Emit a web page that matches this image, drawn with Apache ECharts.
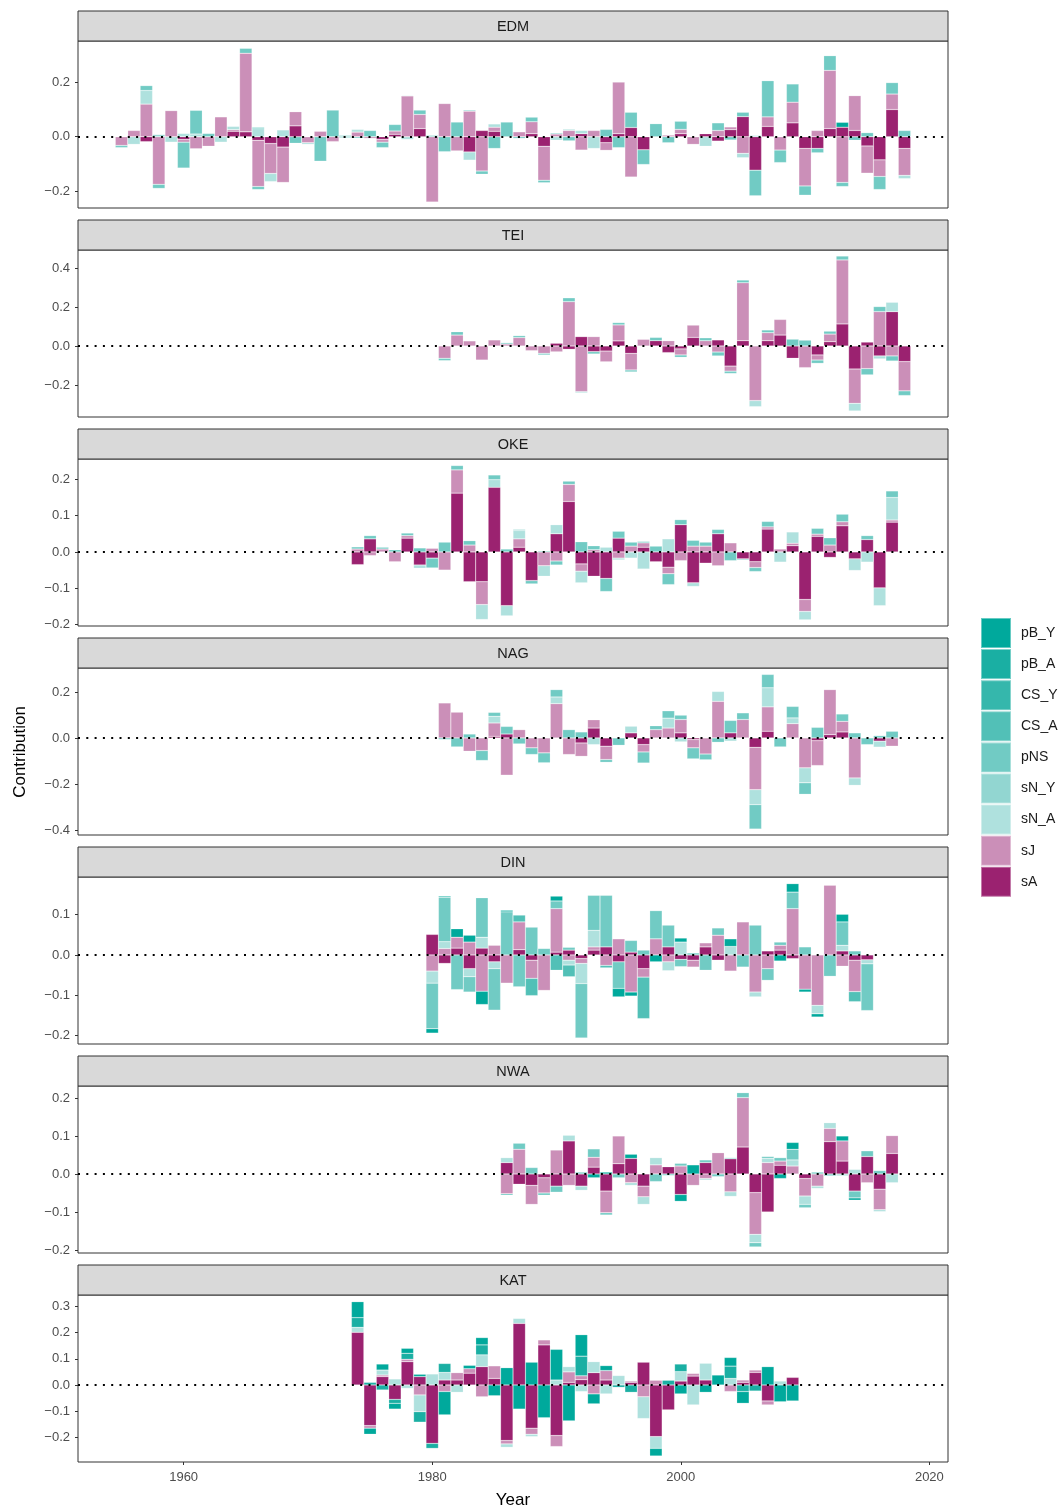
<!DOCTYPE html>
<html>
<head>
<meta charset="utf-8">
<script src="https://cdn.jsdelivr.net/npm/echarts@6/dist/echarts.min.js"></script>
<style>
  html, body { margin: 0; padding: 0; background: #fff; }
  #chart { width: 1063px; height: 1510px; }
</style>
</head>
<body>
<div id="chart"></div>
<script>
// x categories shared by every panel
const years = [
  1952, 1953, 1954, 1955, 1956, 1957, 1958, 1959, 1960, 1961,
  1962, 1963, 1964, 1965, 1966, 1967, 1968, 1969, 1970, 1971,
  1972, 1973, 1974, 1975, 1976, 1977, 1978, 1979, 1980, 1981,
  1982, 1983, 1984, 1985, 1986, 1987, 1988, 1989, 1990, 1991,
  1992, 1993, 1994, 1995, 1996, 1997, 1998, 1999, 2000, 2001,
  2002, 2003, 2004, 2005, 2006, 2007, 2008, 2009, 2010, 2011,
  2012, 2013, 2014, 2015, 2016, 2017, 2018, 2019, 2020, 2021
]
const labelYears = [1960, 1980, 2000, 2020]

// EDM 1955-2018
const edm_sA = [
  0, 0, -0.018, 0, 0, -0.01, 0, 0, 0, 0.02,
  0.018, -0.013, -0.025, -0.038, 0.04, 0, 0, 0, 0, 0,
  0, -0.01, 0.009, 0, 0.03, 0, 0, 0, -0.056, 0.023,
  0.02, 0, 0, 0.011, -0.035, 0, 0, 0.011, 0, -0.022,
  0.011, 0.034, -0.048, 0, 0, 0.011, 0, 0.011, -0.016, 0.026,
  0.074, -0.123, 0.038, 0, 0.051, -0.043, -0.043, 0.03, 0.035, 0.023,
  -0.034, -0.085, 0.1, -0.043
]
const edm_sJ = [
  -0.032, 0.023, 0.12, -0.175, 0.096, -0.01, -0.044, -0.035, 0.073, 0.006,
  0.289, -0.17, -0.11, -0.13, 0.052, -0.022, 0.02, -0.018, 0, 0.017,
  -0.006, -0.01, 0.012, 0.15, 0.052, -0.24, 0.122, -0.052, 0.094, -0.126,
  0.015, 0, 0.018, 0.044, -0.125, 0.01, 0.023, -0.049, 0.023, -0.028,
  0.19, -0.148, 0, 0, 0.006, 0.016, -0.028, 0, 0.023, 0.01,
  -0.061, 0, 0.035, -0.049, 0.076, -0.138, 0.023, 0.214, -0.168, 0.128,
  -0.1, -0.061, 0.057, -0.099
]
const edm_sNA = [
  0, -0.028, 0.05, 0, -0.02, 0.012, 0.01, 0, -0.02, 0.012,
  0, 0.03, -0.03, 0.025, 0, -0.006, 0, 0, -0.005, 0.01,
  0, 0, 0, -0.01, 0, 0, 0, 0, -0.03, 0,
  0.012, 0, 0, 0, 0, -0.013, 0.005, 0.012, -0.043, 0,
  0, 0, 0, 0, 0, 0, 0, -0.035, 0, 0,
  -0.016, 0.005, 0, 0, 0, 0, 0, 0, 0, 0,
  0, 0, 0, -0.012
]
const edm_sNY = [0, 0, 0, 0.008]
const edm_pNS = [
  -0.008, 0, 0.018, -0.015, 0, -0.095, 0.087, 0.012, 0, 0,
  0.018, -0.011, 0, 0, -0.024, 0, -0.09, 0.098, 0.005, -0.005,
  0.023, -0.02, 0.024, 0, 0.016, 0.005, -0.055, 0.054, 0.004, -0.012,
  -0.043, 0.054, -0.006, 0.017, -0.009, 0.004, -0.015, 0, 0, 0.027,
  -0.04, 0.056, -0.054, 0.048, -0.022, 0.03, 0, 0, 0.028, -0.012,
  0.016, -0.094, 0.133, -0.046, 0.067, -0.034, -0.016, 0.054, -0.015, -0.013,
  0.015, -0.048, 0.042, 0.023
]
const edm_pBY = [
  0, 0, 0, 0, 0, 0, 0, 0, 0, 0,
  0, 0.004, 0, 0, 0, 0, 0, 0, 0, 0,
  0, 0, 0, 0.002, 0, 0, 0, 0, 0, 0,
  0, 0, 0, 0, 0, 0, 0, 0, 0, 0,
  0, 0, 0, 0, 0, 0, 0, 0, 0, 0,
  0, 0, 0, 0, 0, 0, 0, 0, 0.018, 0,
  0, 0, 0, 0
]

// TEI 1981-2018
const tei_sA = [
  0, 0, 0, 0, 0, 0, 0, 0, 0, 0.014,
  -0.017, 0.048, -0.029, -0.026, 0.026, -0.038, 0, 0.027, -0.034, -0.015,
  0.044, 0, 0.031, -0.103, 0.027, 0, 0.027, 0.056, -0.063, 0,
  -0.046, 0.022, 0.113, -0.118, 0.02, -0.051, 0.176, -0.08
]
const tei_sJ = [
  -0.063, 0.056, 0.026, -0.072, 0.031, 0.01, 0.043, -0.024, -0.038, -0.03,
  0.227, -0.234, 0.048, -0.055, 0.082, -0.085, 0.034, 0, 0.027, -0.031,
  0.063, 0.027, -0.031, -0.026, 0.297, -0.28, 0.041, 0.08, 0, -0.111,
  -0.026, 0.039, 0.328, -0.176, -0.116, 0.176, -0.051, -0.15
]
const tei_sNA = [
  0, 0, 0, 0, 0, 0, 0, 0, 0, 0,
  0, 0, 0, 0, 0, 0, 0, 0, 0, 0,
  0, 0, 0, 0, 0, -0.031, 0, 0, 0, 0,
  0, 0, 0, -0.039, 0, -0.015, 0.048, 0
]
const tei_pNS = [
  -0.012, 0.017, 0, 0, 0, 0.007, 0.01, 0, -0.008, 0,
  0.02, -0.005, -0.012, 0, 0.012, -0.01, 0, 0.017, 0, -0.012,
  0, 0.015, -0.02, -0.012, 0.014, 0, 0.014, 0, 0.035, 0.03,
  -0.017, 0.015, 0.02, 0, -0.032, 0.026, -0.026, -0.024
]

// OKE 1974-2017
const oke_sA = [
  -0.035, 0.036, 0, 0, 0.038, -0.036, -0.017, 0, 0.162, -0.082,
  -0.082, 0.178, -0.148, 0.013, -0.079, 0, 0.05, 0.139, -0.033, -0.067,
  -0.073, 0.038, 0, 0.013, -0.027, -0.042, 0.075, -0.085, -0.031, 0.05,
  0, -0.019, -0.027, 0.063, 0, 0.017, -0.131, 0.043, -0.015, 0.072,
  -0.019, 0.034, -0.099, 0.082
]
const oke_sJ = [
  0.008, -0.01, 0.008, -0.027, 0.007, 0, 0.01, -0.05, 0.064, 0.019,
  -0.063, 0, 0, 0.023, 0, -0.038, -0.025, 0.047, -0.02, 0.006,
  0, -0.017, 0.016, 0.012, 0, -0.018, -0.024, 0.016, 0.016, -0.038,
  0.025, 0, -0.016, 0.006, 0.008, 0.007, -0.033, 0.006, 0.019, 0.011,
  0, 0, 0, 0.006
]
const oke_sNA = [
  0, 0, 0, 0, 0, -0.009, 0, 0, 0, 0,
  -0.041, 0.021, -0.028, 0.023, 0, -0.029, 0.025, 0, -0.032, 0,
  0.013, -0.005, -0.017, -0.047, 0, 0.036, 0, -0.01, 0, 0,
  0, 0, 0, 0, -0.028, 0.031, -0.023, 0, 0, 0,
  -0.032, -0.028, -0.049, 0.062
]
const oke_pNS = [
  0.006, 0.009, 0.005, 0.006, 0.007, 0.011, -0.027, 0.027, 0.012, 0.012,
  0, 0.013, 0.008, 0.003, -0.009, 0.003, -0.011, 0.009, 0.028, 0.011,
  -0.036, 0.019, 0.011, 0.004, 0.016, -0.03, 0.014, 0.016, 0.011, 0.012,
  -0.024, -0.003, -0.011, 0.015, 0, 0, 0, 0.016, 0.02, 0.021,
  0, 0.011, 0, 0.018
]

// NAG 1981-2017
const nag_sA = [
  0, 0, 0, 0, 0.007, 0.017, 0, 0, 0, 0,
  0, -0.022, 0.043, -0.036, 0, 0.022, -0.029, 0, 0, 0.022,
  -0.007, 0, 0, 0.022, 0, -0.041, 0.029, 0, 0, 0,
  -0.012, 0.014, 0.026, 0, 0, -0.014, 0
]
const nag_sJ = [
  0.152, 0.112, -0.058, -0.055, 0.058, -0.162, 0.036, -0.043, -0.065, 0.149,
  -0.072, -0.058, 0.036, -0.058, 0, 0, -0.032, 0.036, 0.043, 0.058,
  -0.036, -0.07, 0.159, 0, 0.08, -0.184, 0.106, 0, 0.062, -0.13,
  -0.108, 0.196, 0.046, -0.174, 0, 0, -0.036
]
const nag_sNA = [
  0, 0, 0, 0, 0.029, 0, 0, 0, 0, 0.029,
  0, 0, -0.029, 0, 0, 0.029, 0, 0, 0.043, -0.017,
  0, 0, 0.043, -0.014, 0, -0.065, 0.083, 0, 0.025, -0.065,
  0, 0, 0, -0.032, 0, -0.026, 0
]
const nag_pNS = [
  -0.007, -0.039, 0.017, -0.043, 0.017, 0.033, -0.026, -0.029, -0.043, 0.032,
  0.036, 0.026, 0, -0.012, -0.032, 0, -0.048, 0.017, 0.032, 0.019,
  -0.048, -0.025, -0.019, 0.054, 0.029, -0.106, 0.058, -0.039, 0.05, -0.05,
  0.046, 0, 0.032, 0.022, -0.029, 0.01, 0.029
]

// DIN 1980-2015
const din_sA = [
  0.051, -0.021, 0.017, -0.034, 0.017, -0.017, 0, 0.013, -0.013, 0,
  0.007, 0.012, -0.009, 0.012, 0.02, -0.017, 0.007, -0.034, 0, 0.02,
  -0.011, -0.013, 0.02, -0.013, 0, 0, 0, 0.01, 0.012, -0.009,
  0, 0, 0, 0.01, -0.013, -0.012
]
const din_sJ = [
  -0.04, 0.016, 0.027, 0.032, -0.09, 0.024, -0.07, 0.069, -0.045, -0.088,
  0.108, -0.013, -0.012, 0.008, -0.026, 0.04, -0.092, -0.021, 0.04, -0.017,
  0, -0.017, 0.01, 0.049, -0.04, 0.082, -0.092, -0.034, 0.012, 0.115,
  -0.085, -0.125, 0.173, -0.028, -0.078, 0
]
const din_sNA = [
  -0.03, 0.017, 0, -0.02, 0.027, -0.017, 0, 0, 0, 0,
  0, -0.012, -0.05, 0.041, 0, 0, 0, 0, 0, -0.022,
  0.032, 0, 0, 0, 0.021, 0, -0.012, 0, 0, 0,
  0, -0.021, 0, 0.014, 0, -0.01
]
const din_pNS = [
  -0.113, 0.11, -0.086, -0.038, 0.098, -0.103, 0.107, -0.079, 0.069, 0.016,
  0.019, 0.007, -0.135, 0.087, 0.128, -0.066, 0.029, 0.012, 0.07, 0.054,
  -0.018, 0.005, -0.038, 0.018, 0, -0.03, 0.074, -0.029, 0.008, 0.041,
  0.02, 0, -0.053, 0.058, 0.01, -0.116
]
const din_CSA = [
  0, 0, 0, 0, 0, 0, 0, 0.017, -0.043, 0,
  -0.038, -0.029, 0, 0, -0.006, 0, 0, -0.103, 0, 0,
  0, 0, 0, 0, 0, 0, 0, 0, 0, 0,
  0, 0, 0, 0, -0.025, 0
]
const din_pBY = [
  -0.011, 0.003, 0.021, 0.017, -0.033, 0, 0.004, 0, 0, 0,
  0.012, 0, 0, 0, 0, -0.021, -0.01, 0, -0.017, 0,
  0.01, 0, 0, 0, 0.019, 0, 0, 0, -0.015, 0.021,
  -0.007, -0.008, 0, 0.019, 0, 0
]

// NWA 1986-2017
const nwa_sA = [
  0.03, -0.027, -0.03, -0.01, -0.032, 0.087, -0.032, 0.018, -0.045, 0.027,
  0.041, -0.032, 0, 0.019, -0.054, 0, 0.03, 0, 0.04, 0.071,
  -0.049, -0.1, 0.023, 0, -0.012, 0, 0.085, 0.034, -0.045, 0.046,
  -0.04, 0.054
]
const nwa_sJ = [
  -0.052, 0.065, -0.05, -0.04, 0.063, -0.03, 0, 0.026, -0.057, 0.073,
  -0.023, -0.028, 0.024, 0, 0.021, -0.03, -0.012, 0.056, -0.047, 0.13,
  -0.11, 0.03, 0.011, 0.021, -0.046, -0.032, 0.035, 0.053, 0, -0.023,
  -0.054, 0.047
]
const nwa_sNA = [
  0.013, 0, 0, 0, 0, 0.015, -0.011, 0, 0, 0,
  -0.007, -0.02, 0.019, 0, 0, 0, -0.004, 0, -0.012, 0,
  -0.022, 0.011, 0, 0.016, -0.022, -0.006, 0.015, -0.005, 0.012, 0,
  -0.005, -0.023
]
const nwa_pNS = [
  -0.004, 0.016, 0.017, -0.006, -0.016, 0, 0.005, 0.022, -0.006, -0.01,
  0, 0, -0.02, -0.004, 0.007, 0, 0.007, -0.007, 0.003, 0.013,
  -0.011, 0.005, 0.009, 0.028, -0.009, 0.005, -0.005, 0, -0.018, 0.015,
  0.009, 0
]
const nwa_pBY = [
  0, 0, 0, 0, 0, 0, 0, -0.01, 0.005, 0,
  0.011, 0, 0, 0, -0.018, 0.024, 0, 0, 0, 0,
  0, 0, -0.012, 0.018, 0, 0, 0, 0.013, -0.006, 0,
  0, 0
]

// KAT 1974-2009
const kat_sA = [
  0.201, -0.155, 0.032, -0.055, 0.089, 0.032, -0.223, 0.019, 0.019, 0.045,
  0.07, 0.025, -0.212, 0.235, -0.165, 0.153, -0.193, 0.01, 0.02, 0.047,
  0.019, 0, 0.01, 0.087, -0.197, -0.095, 0.015, 0.034, 0.019, 0,
  0, 0.01, 0.048, -0.061, 0, 0.029
]
const kat_sJ = [
  0, -0.01, 0.006, 0, 0.009, -0.038, 0, -0.025, 0.028, 0.017,
  -0.045, 0.048, -0.013, 0, -0.023, 0.019, -0.042, 0.04, 0.015, -0.034,
  0.036, 0, 0.005, -0.045, 0.018, 0, 0, 0.01, 0, 0,
  -0.025, 0.009, 0.009, -0.015, 0, 0
]
const kat_sNA = [
  0.019, 0, 0.019, 0.023, -0.013, -0.064, 0.042, 0.029, -0.028, 0,
  0.045, 0, -0.013, 0.019, -0.009, 0, 0.019, 0.02, -0.025, 0.042,
  -0.034, 0.036, 0, -0.083, -0.045, 0, 0.036, -0.076, 0.064, 0,
  0.025, 0, 0, 0, 0.015, 0
]
const kat_pBA = [
  0.037, 0.01, -0.019, -0.015, 0.023, -0.04, -0.019, 0.034, 0, 0,
  0.038, 0, 0, 0, 0, 0, 0, 0, 0.075, 0,
  0, -0.009, -0.028, 0, 0, 0.018, 0.029, 0, 0, 0,
  0.047, -0.025, -0.023, 0, 0, 0
]
const kat_pBY = [
  0.061, -0.023, 0.023, -0.022, 0.019, 0.009, 0, -0.089, 0, 0.013,
  0.028, -0.041, 0.066, -0.092, 0.087, -0.125, 0.117, -0.137, 0.082, -0.038,
  0.019, 0, 0, 0, -0.029, 0, -0.034, 0, -0.028, 0.038,
  0.033, -0.045, 0, 0.07, -0.064, -0.061
]

// stacking goes outward from zero in this order
const stackOrder = ['sA', 'sJ', 'sN_A', 'sN_Y', 'pNS', 'CS_A', 'CS_Y', 'pB_A', 'pB_Y']
const legendOrder = ['pB_Y', 'pB_A', 'CS_Y', 'CS_A', 'pNS', 'sN_Y', 'sN_A', 'sJ', 'sA']
const colors = {
  pB_Y: '#00a99c', pB_A: '#1aafa3', CS_Y: '#35b7ac', CS_A: '#52c0b7', pNS: '#71cbc4',
  sN_Y: '#92d6d1', sN_A: '#afe1de', sJ: '#cb8fb8', sA: '#9b2270'
}

const panels = [
  { name: 'EDM', start: 1955, min: -0.262, max: 0.352, ticks: [-0.2, 0, 0.2],
    values: { sA: edm_sA, sJ: edm_sJ, sN_A: edm_sNA, sN_Y: edm_sNY, pNS: edm_pNS, pB_Y: edm_pBY } },
  { name: 'TEI', start: 1981, min: -0.364, max: 0.492, ticks: [-0.2, 0, 0.2, 0.4],
    values: { sA: tei_sA, sJ: tei_sJ, sN_A: tei_sNA, pNS: tei_pNS } },
  { name: 'OKE', start: 1974, min: -0.204, max: 0.256, ticks: [-0.2, -0.1, 0, 0.1, 0.2],
    values: { sA: oke_sA, sJ: oke_sJ, sN_A: oke_sNA, pNS: oke_pNS } },
  { name: 'NAG', start: 1981, min: -0.422, max: 0.304, ticks: [-0.4, -0.2, 0, 0.2],
    values: { sA: nag_sA, sJ: nag_sJ, sN_A: nag_sNA, pNS: nag_pNS } },
  { name: 'DIN', start: 1980, min: -0.221, max: 0.1935, ticks: [-0.2, -0.1, 0, 0.1],
    values: { sA: din_sA, sJ: din_sJ, sN_A: din_sNA, pNS: din_pNS, CS_A: din_CSA, pB_Y: din_pBY } },
  { name: 'NWA', start: 1986, min: -0.208, max: 0.2316, ticks: [-0.2, -0.1, 0, 0.1, 0.2],
    values: { sA: nwa_sA, sJ: nwa_sJ, sN_A: nwa_sNA, pNS: nwa_pNS, pB_Y: nwa_pBY } },
  { name: 'KAT', start: 1974, min: -0.294, max: 0.3435, ticks: [-0.2, -0.1, 0, 0.1, 0.2, 0.3],
    values: { sA: kat_sA, sJ: kat_sJ, sN_A: kat_sNA, pB_A: kat_pBA, pB_Y: kat_pBY } }
]

const FONT = 'Liberation Sans, Arial, sans-serif'
const PANEL_LEFT = 78
const PANEL_WIDTH = 870
const PANEL_HEIGHT = 167
const STRIP_HEIGHT = 30
const FIRST_STRIP = 11
const STEP = 209

const fmt = v => (v < 0 ? '\u2212' : '') + Math.abs(v).toFixed(1)
const isLabelYear = (idx, val) => labelYears.includes(Number(val))

const grids = []
const xAxes = []
const yAxes = []
const series = []
const graphics = []

panels.forEach((p, i) => {
  const stripTop = FIRST_STRIP + i * STEP
  const top = stripTop + STRIP_HEIGHT
  const last = i === panels.length - 1

  graphics.push({
    type: 'rect',
    shape: { x: PANEL_LEFT, y: stripTop, width: PANEL_WIDTH, height: STRIP_HEIGHT },
    style: { fill: '#d9d9d9', stroke: '#333', lineWidth: 1 }
  })
  graphics.push({
    type: 'text',
    x: PANEL_LEFT + PANEL_WIDTH / 2,
    y: stripTop + STRIP_HEIGHT / 2 + 1,
    style: { text: p.name, font: '14.5px ' + FONT, fill: '#1a1a1a', align: 'center', verticalAlign: 'middle' }
  })

  grids.push({
    left: PANEL_LEFT, top: top, width: PANEL_WIDTH, height: PANEL_HEIGHT,
    show: true, borderColor: '#333', borderWidth: 1
  })

  xAxes.push({
    type: 'category',
    gridIndex: i,
    data: years,
    boundaryGap: true,
    axisLine: { show: false, onZero: false },
    axisTick: { show: last, interval: isLabelYear, alignWithLabel: true, length: 3, lineStyle: { color: '#333' } },
    axisLabel: { show: last, interval: isLabelYear, color: '#4d4d4d', fontSize: 13, fontFamily: FONT, margin: 9 },
    splitLine: { show: false }
  })

  yAxes.push({
    type: 'value',
    gridIndex: i,
    min: p.min,
    max: p.max,
    axisLine: { show: false },
    axisTick: { show: true, length: 3, customValues: p.ticks, lineStyle: { color: '#333' } },
    axisLabel: { customValues: p.ticks, formatter: fmt, color: '#4d4d4d', fontSize: 13, fontFamily: FONT, margin: 8 },
    splitLine: { show: false }
  })

  stackOrder.forEach(key => {
    const vals = p.values[key] || []
    const data = years.map(y => {
      const v = vals[y - p.start]
      return (v === undefined || v === 0) ? null : v
    })
    series.push({
      name: key,
      type: 'bar',
      xAxisIndex: i,
      yAxisIndex: i,
      stack: p.name,
      barCategoryGap: '0%',
      itemStyle: { color: colors[key], borderColor: 'rgba(255,255,255,0.4)', borderWidth: 0.5 },
      data: data
    })
  })

  // dotted zero reference line drawn above the bars
  series.push({
    name: 'zero-' + p.name,
    type: 'line',
    xAxisIndex: i,
    yAxisIndex: i,
    data: [],
    z: 10,
    markLine: {
      silent: true,
      symbol: 'none',
      label: { show: false },
      lineStyle: { color: '#000', type: [2, 6.3], width: 1.8 },
      data: [{ yAxis: 0 }]
    }
  })
})

graphics.push({
  type: 'text',
  x: 20, y: 752,
  rotation: Math.PI / 2,
  style: { text: 'Contribution', font: '17px ' + FONT, fill: '#000', align: 'center', verticalAlign: 'middle' }
})
graphics.push({
  type: 'text',
  x: 513, y: 1500,
  style: { text: 'Year', font: '17px ' + FONT, fill: '#000', align: 'center', verticalAlign: 'middle' }
})

const chart = echarts.init(document.getElementById('chart'))
chart.setOption({
  animation: false,
  backgroundColor: '#fff',
  textStyle: { fontFamily: FONT },
  legend: {
    orient: 'vertical',
    left: 980,
    top: 617,
    padding: 0,
    itemWidth: 30,
    itemHeight: 30,
    itemGap: -0.9,
    icon: 'rect',
    selectedMode: false,
    data: legendOrder,
    textStyle: { fontSize: 14, color: '#1a1a1a', fontFamily: FONT, padding: [0, 0, 0, 5] }
  },
  grid: grids,
  xAxis: xAxes,
  yAxis: yAxes,
  series: series,
  graphic: graphics
})
</script>
</body>
</html>
